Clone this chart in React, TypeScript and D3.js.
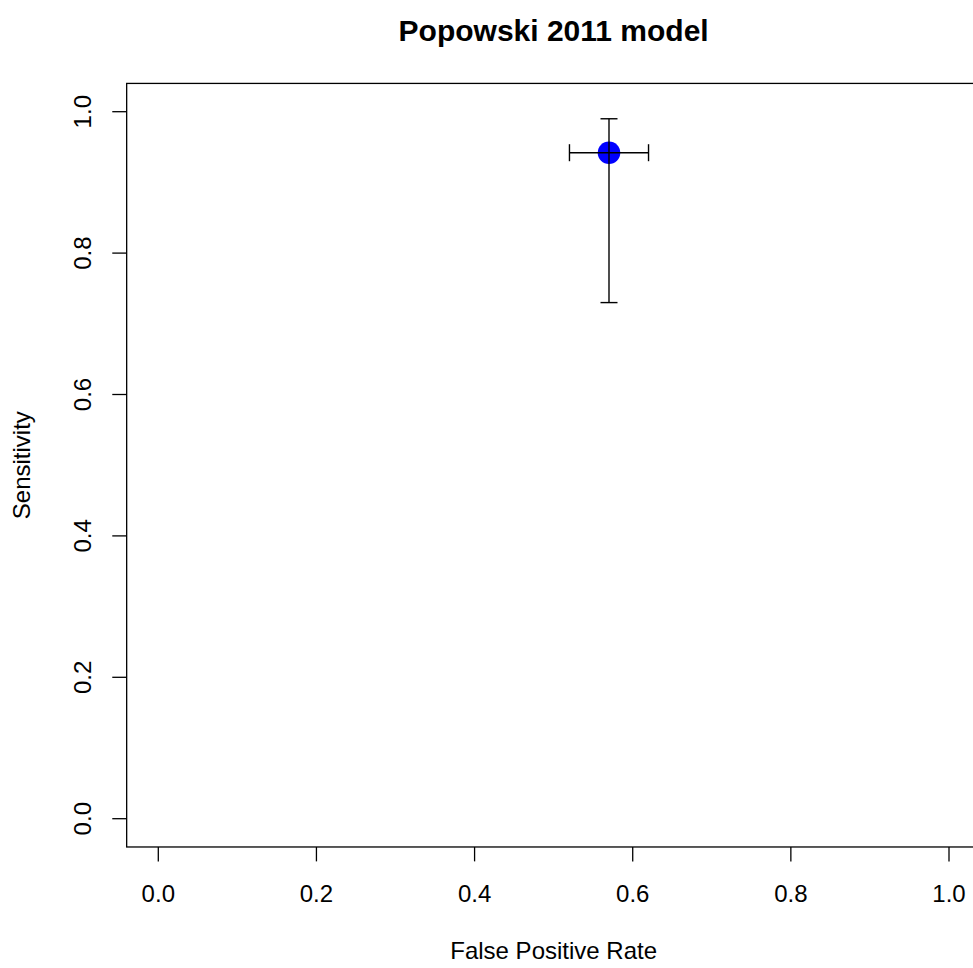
import React from "react";
import * as d3 from "d3";

const title = "Popowski 2011 model";
const xLabel = "False Positive Rate";
const yLabel = "Sensitivity";
const xTicks = [0, 0.2, 0.4, 0.6, 0.8, 1.0];
const yTicks = [0, 0.2, 0.4, 0.6, 0.8, 1.0];
const pointFPR = [0.57];
const pointSens = [0.942];
const fprLow = [0.52];
const fprHigh = [0.62];
const sensLow = [0.73];
const sensHigh = [0.99];

const W = 973;
const H = 968;

export default function App() {
  const x = d3.scaleLinear().domain([0, 1]).range([158.3, 949]);
  const y = d3.scaleLinear().domain([0, 1]).range([818.7, 111.7]);
  const left = x(-0.04);
  const right = x(1.04);
  const top = y(1.04);
  const bottom = y(-0.04);
  const font = "'Liberation Sans', Arial, sans-serif";
  const cap = 8.5;
  const fmt = d3.format(".1f");
  return (
    <svg
      width={W}
      height={H}
      style={{ position: "absolute", left: 0, top: 0, display: "block", background: "#fff" }}
      fontFamily={font}
    >
      <rect x={0} y={0} width={W} height={H} fill="#fff" />
      <text x={(left + right) / 2} y={41} textAnchor="middle" fontWeight="bold" fontSize={30}>
        {title}
      </text>
      <rect x={left} y={top} width={right - left} height={bottom - top} fill="none" stroke="#000" strokeWidth={1.3} />
      {xTicks.map((t) => (
        <g key={"x" + t}>
          <line x1={x(t)} x2={x(t)} y1={bottom} y2={bottom + 14.4} stroke="#000" strokeWidth={1.3} />
          <text x={x(t)} y={902} textAnchor="middle" fontSize={24}>
            {fmt(t)}
          </text>
        </g>
      ))}
      {yTicks.map((t) => (
        <g key={"y" + t}>
          <line x1={left} x2={left - 14.4} y1={y(t)} y2={y(t)} stroke="#000" strokeWidth={1.3} />
          <text x={91} y={y(t)} textAnchor="middle" fontSize={24} transform={`rotate(-90 91 ${y(t)})`}>
            {fmt(t)}
          </text>
        </g>
      ))}
      <text x={(left + right) / 2} y={959} textAnchor="middle" fontSize={24}>
        {xLabel}
      </text>
      <text
        x={30}
        y={(top + bottom) / 2}
        textAnchor="middle"
        fontSize={24}
        transform={`rotate(-90 30 ${(top + bottom) / 2})`}
      >
        {yLabel}
      </text>
      {pointFPR.map((fp, i) => (
        <g key={"p" + i}>
          <circle cx={x(fp)} cy={y(pointSens[i])} r={11.3} fill="#0000ff" />
          <line x1={x(fp)} x2={x(fp)} y1={y(sensLow[i])} y2={y(sensHigh[i])} stroke="#000" strokeWidth={1.4} />
          <line x1={x(fp) - cap} x2={x(fp) + cap} y1={y(sensLow[i])} y2={y(sensLow[i])} stroke="#000" strokeWidth={1.4} />
          <line x1={x(fp) - cap} x2={x(fp) + cap} y1={y(sensHigh[i])} y2={y(sensHigh[i])} stroke="#000" strokeWidth={1.4} />
          <line x1={x(fprLow[i])} x2={x(fprHigh[i])} y1={y(pointSens[i])} y2={y(pointSens[i])} stroke="#000" strokeWidth={1.4} />
          <line x1={x(fprLow[i])} x2={x(fprLow[i])} y1={y(pointSens[i]) - cap} y2={y(pointSens[i]) + cap} stroke="#000" strokeWidth={1.4} />
          <line x1={x(fprHigh[i])} x2={x(fprHigh[i])} y1={y(pointSens[i]) - cap} y2={y(pointSens[i]) + cap} stroke="#000" strokeWidth={1.4} />
        </g>
      ))}
    </svg>
  );
}
